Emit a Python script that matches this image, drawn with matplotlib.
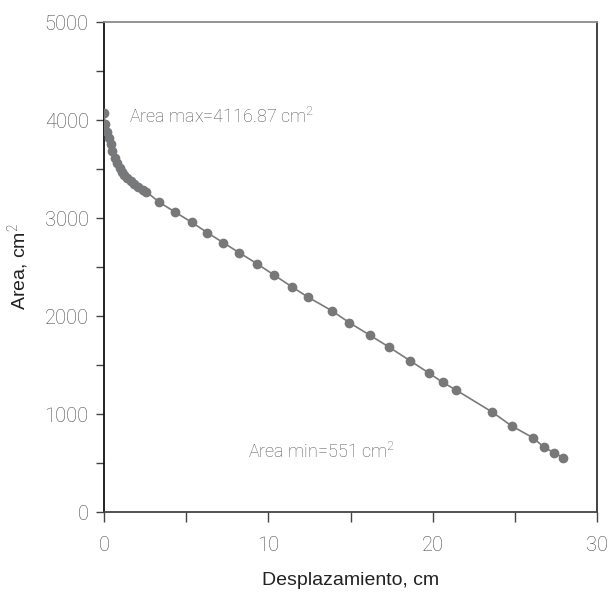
import matplotlib
matplotlib.use("Agg")
import matplotlib.pyplot as plt
from matplotlib.ticker import MultipleLocator

plt.rcParams['mathtext.fontset'] = 'custom'
plt.rcParams['mathtext.rm'] = 'Roboto:light'
plt.rcParams['mathtext.it'] = 'Roboto:light'

desplazamiento = [0.0, 0.06, 0.20, 0.32, 0.41, 0.51, 0.67, 0.81, 0.97, 1.11, 1.24, 1.42,
                  1.66, 1.84, 2.09, 2.39, 2.56, 3.37, 4.32, 5.34, 6.29, 7.26, 8.23, 9.33,
                  10.35, 11.42, 12.43, 13.86, 14.93, 16.19, 17.36, 18.62, 19.80, 20.61,
                  21.42, 23.62, 24.81, 26.13, 26.78, 27.39, 27.96]
area = [4074, 3959, 3881, 3813, 3755, 3687, 3609, 3558, 3507, 3472, 3439, 3405,
        3381, 3347, 3313, 3286, 3270, 3160, 3061, 2956, 2850, 2748, 2646, 2531,
        2418, 2299, 2191, 2054, 1932, 1803, 1681, 1544, 1415, 1323,
        1245, 1020, 878, 755, 660, 605, 551]

x_ticks = [0, 10, 20, 30]
y_ticks = [0, 1000, 2000, 3000, 4000, 5000]
label_max = "Area max=4116.87 cm$^2$"
label_min = "Area min=551 cm$^2$"

fig = plt.figure(figsize=(6.09, 5.92), dpi=100)
ax = fig.add_axes([104/609, 1-512/592, (597-104)/609, (512-22)/592])

ax.plot(desplazamiento, area, color='#7a7a7c', lw=1.2, marker='o', ms=6,
        mfc='#77787a', mec='#77787a', zorder=3)

ax.set_xlim(0, 30)
ax.set_ylim(0, 5000)
ax.set_xticks(x_ticks)
ax.set_yticks(y_ticks)
ax.xaxis.set_minor_locator(MultipleLocator(5))
ax.yaxis.set_minor_locator(MultipleLocator(500))

tick_font = dict(family='Roboto', weight='light', size=14.5)
ax.set_xticklabels([str(t) for t in x_ticks], color='#4a4a4a', fontdict=tick_font)
ax.set_yticklabels([str(t) for t in y_ticks], color='#4a4a4a', fontdict=tick_font)

ax.tick_params(axis='y', which='both', direction='out', length=6, width=1.0,
               color='#444444', pad=5)
ax.tick_params(axis='x', which='both', direction='out', length=7.5, width=1.0,
               color='#444444', pad=10)

for side, c in [('left', '#111111'), ('bottom', '#444444'), ('top', '#8a8a8a'), ('right', '#333333')]:
    ax.spines[side].set_color(c)
    ax.spines[side].set_linewidth(1.3)

ax.set_xlabel("Desplazamiento, cm", family='Liberation Sans', size=14, color='#222222', labelpad=12)
ax.set_ylabel("Area, cm$^2$", family='Liberation Sans', size=14, color='#222222', labelpad=10)

ax.text(1.52, 4031, label_max, family='Roboto', weight='light', size=13,
        color='#555555', ha='left', va='center')
ax.text(8.76, 612, label_min, family='Roboto', weight='light', size=13,
        color='#555555', ha='left', va='center')

fig.savefig("out.png", dpi=100)
